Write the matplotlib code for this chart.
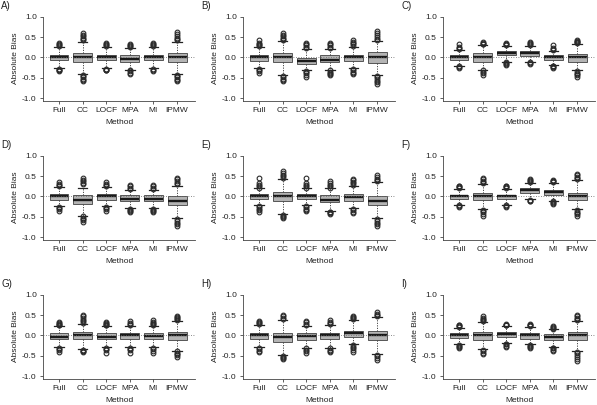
import numpy as np
import matplotlib
matplotlib.use('Agg')
import matplotlib.pyplot as plt

plt.rcParams['font.family'] = ['Liberation Sans', 'DejaVu Sans']

methods = ['Full', 'CC', 'LOCF', 'MPA', 'MI', 'IPMW']
panels = ['A)', 'B)', 'C)', 'D)', 'E)', 'F)', 'G)', 'H)', 'I)']

# box summaries, one row per panel, one column per method
q1 = [[-0.065, -0.11, -0.07, -0.11, -0.07, -0.12],
      [-0.08, -0.12, -0.16, -0.11, -0.08, -0.14],
      [-0.055, -0.10, 0.05, 0.04, -0.055, -0.11],
      [-0.075, -0.18, -0.075, -0.115, -0.115, -0.22],
      [-0.07, -0.12, -0.07, -0.14, -0.10, -0.22],
      [-0.06, -0.08, -0.06, 0.09, 0.04, -0.08],
      [-0.075, -0.09, -0.075, -0.08, -0.08, -0.10],
      [-0.08, -0.15, -0.10, -0.08, -0.025, -0.12],
      [-0.055, -0.11, -0.04, -0.075, -0.11, -0.11]]
med = [[0.0, 0.0, 0.0, -0.04, 0.0, 0.0],
       [0.0, 0.0, -0.08, -0.05, 0.0, 0.0],
       [0.0, 0.0, 0.105, 0.105, 0.0, 0.0],
       [0.0, -0.075, 0.0, -0.06, -0.06, -0.11],
       [0.0, 0.0, 0.0, -0.075, -0.01, -0.11],
       [0.0, 0.0, 0.0, 0.17, 0.10, 0.0],
       [-0.025, 0.0, -0.03, 0.0, -0.02, 0.0],
       [0.0, -0.04, -0.02, 0.0, 0.05, 0.0],
       [0.0, 0.0, 0.025, 0.0, -0.04, 0.0]]
q3 = [[0.065, 0.11, 0.07, 0.05, 0.07, 0.11],
      [0.07, 0.12, -0.02, 0.05, 0.07, 0.13],
      [0.055, 0.10, 0.17, 0.16, 0.055, 0.09],
      [0.066, 0.025, 0.066, 0.025, 0.025, 0.01],
      [0.07, 0.12, 0.07, 0.025, 0.06, 0.01],
      [0.04, 0.09, 0.04, 0.21, 0.15, 0.09],
      [0.065, 0.09, 0.05, 0.065, 0.065, 0.09],
      [0.065, 0.065, 0.065, 0.065, 0.12, 0.105],
      [0.065, 0.08, 0.08, 0.065, 0.025, 0.09]]
whislo = [[-0.26, -0.40, -0.26, -0.30, -0.27, -0.40],
          [-0.27, -0.43, -0.31, -0.30, -0.27, -0.43],
          [-0.20, -0.30, -0.10, -0.10, -0.18, -0.32],
          [-0.24, -0.47, -0.24, -0.29, -0.29, -0.54],
          [-0.22, -0.43, -0.22, -0.35, -0.29, -0.54],
          [-0.20, -0.31, -0.20, -0.06, -0.10, -0.32],
          [-0.28, -0.33, -0.28, -0.28, -0.28, -0.37],
          [-0.28, -0.49, -0.30, -0.30, -0.22, -0.46],
          [-0.22, -0.34, -0.18, -0.22, -0.28, -0.38]]
whishi = [[0.27, 0.39, 0.27, 0.23, 0.27, 0.39],
          [0.25, 0.40, 0.22, 0.22, 0.27, 0.40],
          [0.19, 0.30, 0.28, 0.29, 0.17, 0.33],
          [0.23, 0.21, 0.23, 0.165, 0.165, 0.26],
          [0.20, 0.44, 0.20, 0.20, 0.27, 0.35],
          [0.19, 0.31, 0.19, 0.34, 0.33, 0.40],
          [0.23, 0.29, 0.23, 0.23, 0.23, 0.35],
          [0.27, 0.39, 0.24, 0.27, 0.39, 0.45],
          [0.19, 0.33, 0.23, 0.21, 0.15, 0.35]]
fliers_hi = [[[0.29, 0.31, 0.33, 0.35], [0.42, 0.45, 0.48, 0.52, 0.56, 0.60], [0.29, 0.31, 0.33, 0.36], [0.26, 0.28, 0.30, 0.33], [0.29, 0.31, 0.33, 0.35], [0.42, 0.45, 0.48, 0.52, 0.57, 0.62]],
             [[0.28, 0.30, 0.32, 0.36, 0.42], [0.42, 0.45, 0.48, 0.52, 0.56, 0.60], [0.24, 0.27, 0.30, 0.33, 0.36], [0.24, 0.27, 0.30, 0.33, 0.36], [0.29, 0.32, 0.35, 0.39, 0.43], [0.42, 0.46, 0.50, 0.55, 0.60, 0.65]],
             [[0.21, 0.23, 0.26, 0.33], [0.32, 0.34, 0.36, 0.37], [0.30, 0.32, 0.34, 0.35], [0.31, 0.33, 0.35, 0.37], [0.19, 0.21, 0.24, 0.30], [0.35, 0.37, 0.39, 0.41, 0.43]],
             [[0.25, 0.28, 0.31, 0.35], [0.30, 0.33, 0.37, 0.41, 0.45], [0.25, 0.28, 0.31, 0.35], [0.19, 0.22, 0.25, 0.29], [0.19, 0.22, 0.25, 0.29], [0.30, 0.34, 0.38, 0.42, 0.45]],
             [[0.22, 0.25, 0.28, 0.32, 0.45], [0.46, 0.50, 0.54, 0.58, 0.62], [0.22, 0.25, 0.28, 0.32, 0.45], [0.22, 0.25, 0.29, 0.33, 0.37], [0.29, 0.32, 0.36, 0.40, 0.44], [0.37, 0.40, 0.43, 0.47, 0.54]],
             [[0.21, 0.23, 0.25, 0.27], [0.33, 0.36, 0.39, 0.42, 0.45], [0.21, 0.23, 0.25, 0.27], [0.36, 0.38, 0.40, 0.42], [0.35, 0.37, 0.39, 0.40], [0.42, 0.45, 0.48, 0.52, 0.56]],
             [[0.25, 0.27, 0.29, 0.31, 0.33], [0.31, 0.35, 0.39, 0.43, 0.47, 0.51], [0.25, 0.27, 0.29, 0.31, 0.33], [0.25, 0.28, 0.31, 0.35], [0.25, 0.28, 0.31, 0.34, 0.37], [0.37, 0.40, 0.43, 0.46, 0.49]],
             [[0.29, 0.31, 0.33, 0.35], [0.41, 0.44, 0.47, 0.51], [0.26, 0.29, 0.32, 0.35], [0.29, 0.31, 0.34, 0.37], [0.41, 0.43, 0.45, 0.47], [0.47, 0.50, 0.53, 0.57]],
             [[0.21, 0.23, 0.25, 0.27], [0.35, 0.38, 0.41, 0.44, 0.47], [0.25, 0.26, 0.27, 0.28], [0.23, 0.25, 0.27, 0.28], [0.17, 0.19, 0.21, 0.24], [0.37, 0.40, 0.44, 0.48, 0.51]]]
fliers_lo = [[[-0.28, -0.30, -0.32, -0.34], [-0.42, -0.45, -0.49, -0.53, -0.56, -0.59], [-0.28, -0.30, -0.31, -0.32], [-0.32, -0.34, -0.37, -0.40], [-0.29, -0.31, -0.33], [-0.42, -0.45, -0.49, -0.53, -0.56, -0.59]],
             [[-0.29, -0.31, -0.34, -0.38], [-0.45, -0.48, -0.52, -0.56, -0.59], [-0.33, -0.36, -0.39, -0.43, -0.47], [-0.32, -0.35, -0.38, -0.41, -0.44], [-0.29, -0.32, -0.35, -0.38, -0.40], [-0.45, -0.49, -0.53, -0.57, -0.61, -0.65]],
             [[-0.22, -0.24, -0.26], [-0.32, -0.35, -0.38, -0.42], [-0.12, -0.14, -0.16, -0.18], [-0.12, -0.14, -0.16], [-0.20, -0.22, -0.24, -0.26], [-0.34, -0.37, -0.40, -0.44, -0.48]],
             [[-0.26, -0.29, -0.32, -0.35], [-0.49, -0.52, -0.55, -0.58, -0.62], [-0.26, -0.29, -0.32, -0.35], [-0.31, -0.33, -0.36, -0.39], [-0.31, -0.33, -0.36, -0.39], [-0.56, -0.60, -0.64, -0.68, -0.72]],
             [[-0.24, -0.27, -0.30, -0.34, -0.37], [-0.45, -0.48, -0.51, -0.54], [-0.24, -0.27, -0.30, -0.33, -0.35], [-0.37, -0.39, -0.41, -0.43], [-0.31, -0.34, -0.37, -0.41], [-0.56, -0.60, -0.64, -0.68, -0.72]],
             [[-0.22, -0.24, -0.26], [-0.33, -0.36, -0.39, -0.43, -0.47], [-0.22, -0.24, -0.26], [-0.08, -0.10, -0.12], [-0.12, -0.14, -0.16, -0.18], [-0.34, -0.37, -0.40, -0.44, -0.49]],
             [[-0.30, -0.33, -0.36, -0.41], [-0.35, -0.37, -0.39, -0.41], [-0.30, -0.33, -0.36, -0.42], [-0.30, -0.33, -0.36, -0.42], [-0.30, -0.33, -0.37, -0.42], [-0.39, -0.42, -0.45, -0.48, -0.52]],
             [[-0.30, -0.33, -0.37, -0.41], [-0.51, -0.53, -0.56, -0.58], [-0.32, -0.35, -0.39, -0.44], [-0.32, -0.35, -0.38, -0.41], [-0.24, -0.28, -0.32, -0.36, -0.40], [-0.48, -0.51, -0.55, -0.60]],
             [[-0.24, -0.26, -0.28, -0.30], [-0.36, -0.39, -0.42, -0.46], [-0.20, -0.22, -0.25, -0.28], [-0.24, -0.26, -0.28, -0.31], [-0.30, -0.32, -0.35, -0.38], [-0.40, -0.44, -0.49, -0.54, -0.58, -0.63]]]

W, H = 597, 405
fig = plt.figure(figsize=(W / 100, H / 100), dpi=100)

col_left = [43, 243, 443]
row_top = [16, 155, 294]
ax_w, ax_h = 152, 85

for i, lab in enumerate(panels):
    r, c = divmod(i, 3)
    left, top = col_left[c], row_top[r]
    ax = fig.add_axes([left / W, 1 - (top + ax_h) / H, ax_w / W, ax_h / H])

    stats = []
    for j, m in enumerate(methods):
        stats.append(dict(label=m, q1=q1[i][j], med=med[i][j], q3=q3[i][j],
                          whislo=whislo[i][j], whishi=whishi[i][j],
                          fliers=np.array(fliers_hi[i][j] + fliers_lo[i][j])))
    ax.bxp(stats, positions=range(1, 7), widths=0.8, patch_artist=True,
           boxprops=dict(facecolor='#b4b4b4', edgecolor='#555555', linewidth=0.7),
           medianprops=dict(color='#1a1a1a', linewidth=1.7),
           whiskerprops=dict(color='#444444', linewidth=0.7, linestyle=(0, (1.2, 1.4))),
           capprops=dict(color='#222222', linewidth=0.9),
           capwidths=0.4,
           flierprops=dict(marker='o', markersize=3.4, markerfacecolor='none',
                           markeredgecolor='#2a2a2a', markeredgewidth=0.8))

    ax.axhline(0, color='#666666', linewidth=0.6, linestyle=(0, (1, 2)), zorder=5)

    ax.set_xlim(0.32, 6.76)
    ax.set_ylim(-1.07, 1.02)
    ax.set_yticks([-1.0, -0.5, 0.0, 0.5, 1.0])
    ax.set_yticklabels(['-1.0', '-0.5', '0.0', '0.5', '1.0'])
    ax.set_xticks(range(1, 7))
    ax.set_xticklabels(methods)
    for s in ['top', 'right']:
        ax.spines[s].set_visible(False)
    ax.spines['left'].set_bounds(-1.07, 1.0)
    for s in ['left', 'bottom']:
        ax.spines[s].set_color('#444444')
        ax.spines[s].set_linewidth(0.6)
    ax.tick_params(axis='both', labelsize=6, length=2.5, width=0.6,
                   color='#444444', labelcolor='#222222', pad=2)
    ax.set_xlabel('Method', fontsize=6, color='#222222', labelpad=3.5)
    ax.set_ylabel('Absolute Bias', fontsize=6, color='#222222', labelpad=2)

    fig.text((c * 200 + 1) / W, 1 - (top - 10) / H, lab, fontsize=7,
             color='#222222', va='center', ha='left')

fig.savefig('out.png', dpi=100)
